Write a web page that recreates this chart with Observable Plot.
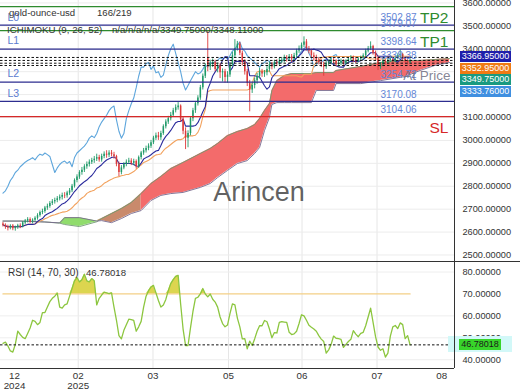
<!DOCTYPE html>
<html><head><meta charset="utf-8">
<script src="https://cdn.jsdelivr.net/npm/d3@7"></script>
<script src="https://cdn.jsdelivr.net/npm/@observablehq/plot@0.6"></script>
<style>
body{margin:0;background:#fff;}
#wrap{position:relative;width:520px;height:390px;overflow:hidden;font-family:"Liberation Sans",Arial,sans-serif;color:#333;}
#wrap svg{position:absolute;left:0;}
.ov{position:absolute;white-space:pre;line-height:1;}
.tag{position:absolute;left:460px;width:51px;height:11px;line-height:11px;font-size:9px;text-align:center;color:#fff;}
</style></head><body><div id="wrap"></div>
<script>
// ---- candles (bar index 0..165) ----
const open = [2635,2630,2622,2618,2626,2615,2620,2628, 2624,2640,2648,2655,2645,2652, 2660,2672,2685,2690, 2705,2712,2725,2732, 2738,2745,2752,2760,2758,2770, 2780,2800,2825,2840, 2860,2870,2885,2895, 2905,2912,2918,2925, 2915,2930,2940,2935,2945,2938, 2930,2895,2860, 2880,2895,2905,2910,2900,2908, 2885,2925,2945,2955, 2965,2975,2990,3010, 3020,3012,3030,3060,3080,3095, 3110,3130,3143, 3150,3090,3040,3010, 3030,3095,3130,3160, 3185,3230,3280,3360,3320, 3335,3340,3310,3325,3295,3300, 3275,3285,3330,3370,3400, 3420,3380,3340,3300,3250, 3220,3240,3260,3280,3300, 3290,3295,3310,3330,3320, 3340,3335,3345,3350,3360,3355, 3365,3355,3370,3390,3400, 3415,3430,3400,3390,3370, 3360,3350,3340,3330,3320, 3335,3340,3350,3345,3330,3335, 3345,3335,3345,3355,3360,3350,3345,3355, 3360,3370,3390,3400, 3410,3380,3360,3320,3330, 3345,3340,3350,3355,3345,3360, 3370,3375,3355,3345,3340];
const high = [2642,2636,2630,2632,2633,2626,2634,2636, 2646,2655,2663,2662,2658,2667, 2680,2692,2700,2712, 2722,2733,2742,2748, 2755,2762,2770,2772,2778,2790, 2808,2832,2850,2868, 2882,2894,2906,2915, 2922,2930,2940,2935, 2940,2950,2955,2955,2956,2948, 2935,2905,2890, 2903,2915,2922,2920,2918,2915, 2932,2952,2965,2975, 2985,3000,3018,3032, 3035,3040,3068,3090,3105,3122, 3140,3155,3165, 3155,3100,3055,3042, 3102,3140,3170,3195, 3240,3290,3335,3480,3350, 3355,3350,3338,3335,3312,3310, 3300,3340,3385,3440,3432, 3428,3390,3352,3310,3262, 3252,3272,3292,3315,3310, 3305,3322,3342,3340,3350, 3352,3358,3362,3372,3370,3375, 3375,3380,3398,3412,3425, 3452,3440,3410,3398,3382, 3372,3362,3352,3342,3345, 3352,3360,3360,3352,3345,3355, 3352,3352,3362,3370,3368,3358,3362,3368, 3378,3398,3410,3430, 3415,3390,3368,3340,3352, 3352,3358,3365,3362,3368,3378, 3395,3380,3362,3352,3356];
const low = [2622,2612,2605,2610,2606,2604,2612,2615, 2618,2632,2640,2638,2636,2645, 2652,2665,2676,2682, 2695,2704,2716,2722, 2728,2736,2740,2746,2748,2760, 2772,2792,2815,2830, 2848,2860,2874,2884, 2895,2900,2908,2905, 2905,2920,2922,2925,2928,2918, 2885,2842,2850, 2872,2885,2895,2890,2890,2875, 2878,2915,2935,2945, 2955,2965,2982,3000, 3000,3000,3022,3050,3070,3085, 3100,3120,3132, 3080,3025,2960,2968, 3020,3082,3118,3150, 3175,3220,3270,3300,3305, 3318,3300,3295,3270,3255,3250, 3250,3275,3320,3362,3390, 3370,3325,3285,3235,3125, 3205,3225,3245,3268,3275, 3275,3282,3298,3308,3312, 3322,3325,3335,3338,3342,3345, 3340,3345,3360,3380,3392, 3405,3390,3378,3360,3345, 3338,3330,3318,3280,3310, 3325,3330,3335,3322,3320,3326, 3328,3328,3338,3345,3340,3335,3338,3345, 3350,3362,3382,3392, 3372,3350,3305,3310,3322, 3330,3332,3340,3335,3338,3352, 3360,3348,3338,3330,3335];
const close = [2630,2622,2618,2626,2615,2620,2628,2624, 2640,2648,2655,2645,2652,2660, 2672,2685,2690,2705, 2712,2725,2732,2738, 2745,2752,2760,2758,2770,2780, 2800,2825,2840,2860, 2870,2885,2895,2905, 2912,2918,2925,2915, 2930,2940,2935,2945,2938,2930, 2895,2860,2880, 2895,2905,2910,2900,2908,2885, 2925,2945,2955,2965, 2975,2990,3010,3020, 3012,3030,3060,3080,3095,3110, 3130,3143,3150, 3090,3040,3010,3030, 3095,3130,3160,3185, 3230,3280,3320,3320,3335, 3340,3310,3325,3295,3300,3275, 3285,3330,3370,3400,3420, 3380,3340,3300,3250,3220, 3240,3260,3280,3300,3290, 3295,3310,3330,3320,3340, 3335,3345,3350,3360,3355,3365, 3355,3370,3390,3400,3415, 3430,3400,3390,3370,3360, 3350,3340,3330,3320,3335, 3340,3350,3345,3330,3335,3345, 3335,3345,3355,3360,3350,3345,3355,3360, 3370,3390,3400,3410, 3380,3360,3320,3330,3345, 3340,3350,3355,3345,3360,3370, 3375,3355,3345,3340,3348.11];

// ---- Ichimoku cloud (senkou spans) ----
const cloudIdx = [0,7,17,23,25,31,38,40,44,48,52,56,60,64,68,73,80,84,87,91,95,99,102,104,106,108,109,111,114,117,125,127,134,135,145,153,163,169,175,181];
const senkouA = [2648,2648,2644,2639,2633,2624,2645,2659,2681,2703,2729,2768,2812,2843,2877,2904,2943,2965,2987,3021,3039,3052,3069,3096,3131,3161,3218,3261,3283,3292,3292,3296,3296,3305,3323,3340,3349,3349,3353,3357];
const senkouB = [2648,2648,2644,2640,2663,2663,2648,2650,2641,2659,2681,2694,2738,2760,2768,2773,2795,2812,2838,2869,2899,2912,2943,2969,3043,3100,3157,3165,3165,3165,3165,3218,3218,3248,3248,3261,3279,3305,3327,3340];

// ---- RSI(14) per bar ----
const rsi = [47.5,48,46.3,44,43.5,47,53,51.5,50.2,49.6, 52,54.5,58,57.5,56,57,61.5,61.5,64,66.5, 68,69,70.4,64,63.5,65,65.5,69,72.5,76, 77.5,75.5,76.5,79,76,75.5,77,76,65,68, 69.5,70.8,70.5,70.1,70.5,64,58,51,49.5,53.4, 56,58.5,58.3,57.9,53,55,57.5,64,69,71.5, 73.2,73.9,70.5,67,64,65,67.5,71.5,74.7,76.5, 78,78.5,65.5,54,46.5,46.5,54.5,62,68,68.5, 70,72.5,70,68.7,70,67.6,66.3,64,59.5,56.5, 55,55.8,61,65.5,65,59,55,49.5,49.6,45, 48.5,46.5,49.5,53,55.5,55.5,57.9,57.3,54,50, 52.4,52.2,57,57.4,57.2,57,52.5,51.5,51.8,53, 56.5,60.5,60,58,55.7,54.8,54,53,51,49.4, 48.3,43,44.5,47,50.8,49.8,49.6,49.3,45.6,47, 48.3,49.3,53.3,51.7,50.5,52,52.5,55.5,59.5,63.5, 57,50.5,45.8,44.3,45,41.2,43,50.8,55,55.6, 54.2,56.8,56,49.6,51,46.78018];

// ---- levels & labels ----
const lineLevels = [3502.87, 3398.64, 3254.72, 3170.08];
const lineNames = ["L0", "L1", "L2", "L3"];
const tpLevels = [3584.00, 3479.07];
const tpNames = ["TP2", "TP1"];
const slLevels = [3104.06];
const valueLabels = [3502.87, 3479.07, 3398.64, 3338.38, 3254.72, 3170.08, 3104.06];
const dottedLevels = [3362, 3349, 3337, 3327];
const tagValues = [3366.95, 3352.95, 3349.75, 3333.76];
const tagColors = ["#1e1eaa", "#f07a14", "#1a9a80", "#3f8fe0"];
const rsiLast = 46.78018;
const priceGrid = [2500,2600,2700,2800,2900,3000,3100,3200,3300,3400,3500,3600];
const priceTicks = [2500,2600,2700,2800,2900,3000,3100,3400,3500,3600];
const rsiTicks = [40,50,60,70,80];
const tickIdx = [4.7, 30.5, 60.8, 91.4, 121.2, 151.6, 177.8];
const tickLabels = ["12\n2024","02\n2025","03","05","06","07","08"];
const gridIdx = tickIdx.slice(1, 6);

const candles = close.map((c, i) => ({i, open: open[i], high: high[i], low: low[i], close: c}));
const mid = (i, p) => { let hi = -Infinity, lo = Infinity; for (let j = Math.max(0, i - p + 1); j <= i; j++) { hi = Math.max(hi, high[j]); lo = Math.min(lo, low[j]); } return (hi + lo) / 2; };
const tenkan = candles.map(d => ({i: d.i, v: mid(d.i, 9)}));
const kijun = candles.map(d => ({i: d.i, v: mid(d.i, 26)}));
const chikou = candles.filter(d => d.i >= 26).map(d => ({i: d.i - 26, v: d.close}));
const cloud = cloudIdx.map((x, k) => ({i: x, a: senkouA[k], b: senkouB[k]}));
const rsiData = rsi.map((v, i) => ({i, v}));
const upC = "#1f9a68", dnC = "#dc3a3a";
const col = d => d.close >= d.open ? upC : dnC;
const FONT = "Liberation Sans, Arial, sans-serif";

const main = Plot.plot({
  width: 520, height: 261, marginTop: 0, marginBottom: 0, marginLeft: 0, marginRight: 66,
  style: {fontFamily: FONT, fontSize: "9.2px", color: "#333", background: "transparent"},
  x: {domain: [-1, 183], axis: null},
  y: {domain: [2471.6, 3610.6], axis: "right", ticks: priceTicks, tickSize: 0, tickPadding: 8, tickFormat: d3.format(".5f"), label: null},
  marks: [
    Plot.ruleX(gridIdx, {x: d => d, stroke: "#e6e6e6"}),
    Plot.ruleY(priceGrid, {y: d => d, stroke: "#ececec"}),
    Plot.areaY(cloud, {x: "i", y1: "a", y2: d => Math.max(d.a, d.b), fill: "#90dc6c"}),
    Plot.areaY(cloud.filter(d => d.i <= 56), {x: "i", y1: "b", y2: d => Math.max(d.a, d.b), fill: "#c98a6c"}),
    Plot.areaY(cloud.filter(d => d.i >= 56), {x: "i", y1: "b", y2: d => Math.max(d.a, d.b), fill: "#f36b6b"}),
    Plot.line(cloud, {x: "i", y: "a", stroke: "#6f9a6f", strokeWidth: 0.9}),
    Plot.line(cloud, {x: "i", y: "b", stroke: "#76688c", strokeWidth: 0.9}),
    Plot.line(chikou, {x: "i", y: "v", stroke: "#5ea6dc", strokeWidth: 1.1}),
    Plot.line(kijun, {x: "i", y: "v", stroke: "#f2a25e", strokeWidth: 1.1}),
    Plot.line(tenkan, {x: "i", y: "v", stroke: "#2a2a9c", strokeWidth: 1.1}),
    Plot.ruleX(candles, {x: "i", y1: "low", y2: "high", stroke: col, strokeWidth: 0.9}),
    Plot.ruleX(candles, {x: "i", y1: "open", y2: "close", stroke: col, strokeWidth: 1.5}),
    Plot.ruleY(lineLevels, {y: d => d, stroke: "#2d2d8f", strokeWidth: 1.2}),
    Plot.ruleY(tpLevels, {y: d => d, stroke: "#2e8b2e", strokeWidth: 1.2}),
    Plot.ruleY(slLevels, {y: d => d, stroke: "#d62828", strokeWidth: 1.2}),
    Plot.ruleY(dottedLevels, {y: d => d, stroke: "#111", strokeWidth: 1, strokeDasharray: "2.5,2"}),
    Plot.text(lineLevels, {y: d => d, text: (d, i) => lineNames[i], frameAnchor: "left", dx: 7, dy: -8, textAnchor: "start", fill: "#5b7bd0", fontSize: 10.5}),
    Plot.text(valueLabels, {y: d => d, text: d => d.toFixed(2), frameAnchor: "right", dx: -74, dy: -7, textAnchor: "start", fill: "#6486d6", fontSize: 10}),
    Plot.text(tpLevels, {y: d => d, text: (d, i) => tpNames[i], frameAnchor: "right", dx: -6, dy: 11, textAnchor: "end", fill: "#2e8b2e", fontSize: 15.5}),
    Plot.text(slLevels, {y: d => d, text: () => "SL", frameAnchor: "right", dx: -6, dy: 11, textAnchor: "end", fill: "#d62828", fontSize: 15.5}),
    Plot.text([lineLevels[2]], {y: d => d, text: () => "At Price", frameAnchor: "right", dx: -4, dy: -6, textAnchor: "end", fill: "#666678", fillOpacity: 0.8, fontSize: 13.5})
  ]
});

const rsiPlot = Plot.plot({
  width: 520, height: 129, marginTop: 0, marginBottom: 22, marginLeft: 0, marginRight: 66,
  style: {fontFamily: FONT, fontSize: "9.2px", color: "#333", background: "transparent"},
  x: {domain: [-1, 183], axis: null},
  y: {domain: [36.0, 84.8], axis: "right", ticks: rsiTicks, tickSize: 0, tickPadding: 8, tickFormat: d3.format(".5f"), label: null},
  marks: [
    Plot.ruleX(gridIdx, {x: d => d, stroke: "#e6e6e6"}),
    Plot.ruleY([40, 50, 60, 80], {y: d => d, stroke: "#eeeeee"}),
    Plot.areaY(rsiData, {x: "i", y1: () => 70, y2: d => Math.max(d.v, 70), fill: "#d8d03c", fillOpacity: 0.9}),
    Plot.lineY(rsiData, {x: "i", y: () => 70, stroke: "#f3cf86", strokeWidth: 1.3}),
    Plot.line(rsiData, {x: "i", y: "v", stroke: "#8cc63f", strokeWidth: 1.3}),
    Plot.ruleY([rsiLast], {y: d => d, stroke: "#111", strokeWidth: 1, strokeDasharray: "2.5,2"}),
    Plot.text(tickIdx, {x: d => d, text: (d, i) => tickLabels[i], frameAnchor: "bottom", lineAnchor: "top", dy: 4, fill: "#333", fontSize: 9.8})
  ]
});

const wrap = document.getElementById("wrap");
main.style.top = "0px";
rsiPlot.style.top = "261px";
wrap.appendChild(main);
wrap.appendChild(rsiPlot);

function ov(html, css) { const d = document.createElement("div"); d.className = "ov"; d.innerHTML = html; Object.assign(d.style, css); wrap.appendChild(d); return d; }
function box(css) { const d = document.createElement("div"); d.style.position = "absolute"; Object.assign(d.style, css); wrap.appendChild(d); return d; }

// frame lines
box({left: "0px", top: "260.5px", width: "520px", height: "1px", background: "#333"});
box({left: "0px", top: "367.5px", width: "454px", height: "1px", background: "#333"});
// rsi tag band
const rs = rsiPlot.scale("y");
const rc = 261 + rs.apply(rsiLast);
box({left: "448px", top: (rc - 8) + "px", width: "64px", height: "16px", background: "#d2f8f8"});
box({left: "453.5px", top: "0px", width: "1px", height: "368px", background: "#333"});
ov(rsiLast.toFixed(5), {left: "459px", top: (rc - 5.5) + "px", width: "42px", height: "11px", lineHeight: "11px", fontSize: "9px", textAlign: "center", background: "#38d42a", color: "#1a1a1a"});

// price tags stacked
const ys = main.scale("y");
let prev = -Infinity;
tagValues.forEach((v, k) => {
  const c = Math.max(ys.apply(v) + 0.6, prev + 11.7);
  prev = c;
  const d = document.createElement("div");
  d.className = "tag";
  d.textContent = v.toFixed(5);
  d.style.top = (c - 5.5) + "px";
  d.style.background = tagColors[k];
  wrap.appendChild(d);
});

// texts
ov("gold-ounce-usd", {left: "9px", top: "7.5px", fontSize: "9.6px", color: "#333"});
ov("166/219", {left: "97px", top: "7.5px", fontSize: "9.6px", color: "#333"});
ov("ICHIMOKU (9, 26, 52)", {left: "7px", top: "25px", fontSize: "9.7px", color: "#333"});
ov("n/a/n/a/n/a/3349.75000/3348.11000", {left: "112px", top: "25px", fontSize: "9.6px", color: "#333"});
ov("RSI (14, 70, 30)", {left: "8px", top: "268px", fontSize: "10px", color: "#333"});
ov(rsiLast.toFixed(5), {left: "86px", top: "268px", fontSize: "9.6px", color: "#333"});
ov("Arincen", {left: "259px", top: "192px", transform: "translate(-50%,-50%)", fontSize: "27px", color: "rgba(70,70,70,0.85)"});
</script></body></html>
